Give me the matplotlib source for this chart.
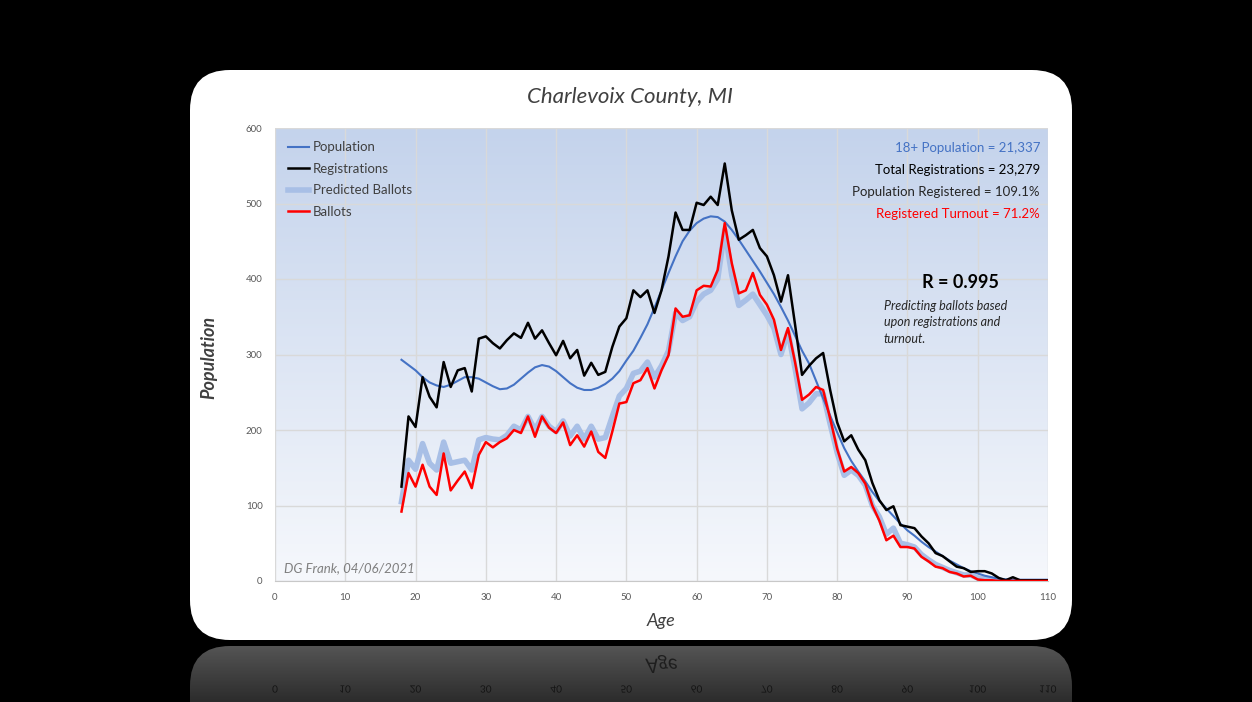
import numpy as np
import matplotlib.pyplot as plt
from matplotlib.patches import FancyBboxPatch, PathPatch
from matplotlib.path import Path
from matplotlib.textpath import TextPath
from matplotlib.font_manager import FontProperties
from matplotlib.colors import LinearSegmentedColormap
from matplotlib.ticker import MultipleLocator

plt.rcParams['font.family'] = ['Lato', 'DejaVu Sans']

ages = list(range(18, 111))

population = [293, 286, 279, 270, 263, 259, 257, 260, 265, 270,
              270, 268, 263, 258, 254, 255, 260, 268, 276, 283,
              286, 284, 278, 270, 262, 256, 253, 253, 256, 261,
              268, 278, 292, 305, 322, 340, 362, 385, 408, 430,
              450, 464, 474, 480, 483, 482, 476, 465, 452, 438,
              424, 410, 395, 380, 363, 345, 325, 305, 288, 265,
              242, 219, 197, 176, 159, 145, 132, 118, 106, 96,
              86, 76, 67, 60, 52, 45, 39, 33, 27, 22,
              17, 13, 10, 7, 5, 3, 2, 1, 1, 0,
              0, 0, 0]

registrations = [125, 218, 204, 270, 244, 230, 290, 257, 279, 282,
                 251, 321, 324, 315, 308, 319, 328, 322, 342, 321,
                 332, 315, 299, 318, 295, 306, 272, 289, 273, 277,
                 310, 337, 348, 385, 376, 385, 355, 385, 430, 488,
                 465, 465, 501, 498, 509, 498, 553, 491, 452, 458,
                 465, 441, 430, 405, 370, 405, 340, 273, 285, 295,
                 302, 253, 210, 185, 193, 174, 160, 130, 107, 94,
                 99, 74, 72, 70, 59, 50, 37, 33, 26, 19,
                 17, 12, 13, 13, 10, 4, 1, 5, 1, 1,
                 1, 1, 1]

predicted = [105, 160, 148, 182, 156, 147, 184, 156, 158, 160,
             147, 187, 190, 188, 187, 193, 205, 200, 218, 200,
             218, 205, 198, 212, 192, 205, 188, 205, 188, 190,
             218, 245, 255, 275, 278, 290, 270, 285, 305, 355,
             345, 350, 370, 380, 385, 400, 465, 405, 365, 372,
             380, 366, 352, 335, 300, 330, 282, 228, 236, 248,
             248, 208, 170, 140, 147, 140, 127, 100, 85, 62,
             70, 50, 48, 45, 35, 28, 22, 18, 14, 11,
             8, 8, 4, 3, 2, 1, 0, 1, 0, 0,
             0, 0, 0]

ballots = [92, 143, 125, 154, 125, 114, 169, 120, 133, 145,
           123, 167, 184, 177, 184, 189, 200, 196, 218, 191,
           218, 203, 196, 210, 180, 193, 178, 198, 171, 163,
           198, 235, 237, 262, 266, 282, 255, 279, 299, 361,
           350, 352, 385, 391, 390, 412, 474, 421, 381, 385,
           408, 379, 366, 346, 306, 335, 290, 240, 247, 257,
           253, 215, 175, 145, 151, 143, 129, 100, 80, 54,
           60, 45, 45, 43, 32, 26, 19, 17, 12, 10,
           6, 7, 2, 1, 1, 0, 0, 0, 0, 0,
           0, 0, 0]

W, H = 1252, 702


def fx(x):
    return x / W


def fy(y):
    return 1 - y / H


fig = plt.figure(figsize=(W / 100, H / 100), dpi=100)
fig.patch.set_facecolor('black')

# background: white rounded card + its reflection
bg = fig.add_axes([0, 0, 1, 1], zorder=-10)
bg.set_xlim(0, W)
bg.set_ylim(H, 0)
bg.axis('off')
card = FancyBboxPatch((190, 70), 882, 570, boxstyle="round,pad=0,rounding_size=40",
                      fc='white', ec='none')
bg.add_patch(card)

refl = FancyBboxPatch((190, 646), 882, 570, boxstyle="round,pad=0,rounding_size=40",
                      fc='none', ec='none')
bg.add_patch(refl)
grad = np.linspace(0, 1, 60).reshape(-1, 1)
refl_cmap = LinearSegmentedColormap.from_list('refl', ['#545454', '#2c2c2c'])
im = bg.imshow(grad, extent=[190, 1072, 702, 646], cmap=refl_cmap, aspect='auto',
               origin='upper', zorder=1)
im.set_clip_path(refl)


def mirrored_text(s, cx, cy, size, color, style='normal'):
    # y axis of bg is inverted, so a plain text path comes out upside down
    tp = TextPath((0, 0), s, size=size, prop=FontProperties(family='Lato', style=style))
    ext = tp.get_extents()
    verts = tp.vertices.copy()
    verts[:, 0] += cx - (ext.x0 + ext.x1) / 2
    verts[:, 1] += cy - (ext.y0 + ext.y1) / 2
    bg.add_patch(PathPatch(Path(verts, tp.codes), fc=color, ec='none', zorder=2))


mirrored_text('Age', 661, 664, 20, '#1e1e1e', style='italic')
for t in range(0, 111, 10):
    mirrored_text(str(t), 275 + t * 7.027, 689, 10, '#141414')

# main chart
ax = fig.add_axes([fx(275), fy(581), (1048 - 275) / W, (581 - 128) / H])
cmap = LinearSegmentedColormap.from_list('bgg', ['#f6f8fc', '#c4d3ec'])
ax.imshow(np.linspace(0, 1, 256).reshape(-1, 1), extent=[0, 110, 0, 600], origin='lower',
          cmap=cmap, aspect='auto', zorder=0)
ax.set_xlim(0, 110)
ax.set_ylim(0, 600)
ax.xaxis.set_major_locator(MultipleLocator(10))
ax.yaxis.set_major_locator(MultipleLocator(100))
ax.set_axisbelow(True)
ax.grid(color='#d9d9d9', lw=1)
for side in ['top', 'right', 'left']:
    ax.spines[side].set_visible(False)
ax.spines['bottom'].set_color('#c8c8c8')
ax.tick_params(length=0, labelsize=7, labelcolor='#595959')
ax.tick_params(axis='x', pad=9)
ax.tick_params(axis='y', pad=9)

ax.plot(ages, population, color='#4472c4', lw=1.5, label='Population', zorder=3)
ax.plot(ages, registrations, color='black', lw=1.8, label='Registrations', zorder=4)
ax.plot(ages, predicted, color='#a8bfe6', lw=4, label='Predicted Ballots', zorder=2)
ax.plot(ages, ballots, color='#ff0000', lw=1.8, label='Ballots', zorder=5)

leg = ax.legend(loc='upper left', bbox_to_anchor=(0.0, 1.0), frameon=False, fontsize=9.5,
                handlelength=1.6, handletextpad=0.25, labelspacing=0.72, borderaxespad=0.6)
for t in leg.get_texts():
    t.set_color('#404040')

# titles and labels
fig.text(fx(630), fy(97), 'Charlevoix County, MI', ha='center', va='center', fontsize=16,
         style='italic', color='#404040')
fig.text(fx(209), fy(357), 'Population', ha='center', va='center', rotation=90, fontsize=13,
         style='italic', fontweight='bold', color='#404040')
fig.text(fx(661), fy(621), 'Age', ha='center', va='center', fontsize=13,
         style='italic', color='#404040')

# summary texts
fig.text(fx(1040), fy(148), '18+ Population = 21,337', ha='right', va='center',
         fontsize=9.5, color='#4472c4')
fig.text(fx(1040), fy(170), 'Total Registrations = 23,279', ha='right', va='center',
         fontsize=9.5, color='black')
fig.text(fx(1040), fy(192), 'Population Registered = 109.1%', ha='right', va='center',
         fontsize=9.5, color='#262626')
fig.text(fx(1040), fy(214), 'Registered Turnout = 71.2%', ha='right', va='center',
         fontsize=9.5, color='#ff0000')
fig.text(fx(960), fy(282), 'R = 0.995', ha='center', va='center', fontsize=13,
         fontweight='bold', color='black')
fig.text(fx(884), fy(300), 'Predicting ballots based\nupon registrations and\nturnout.',
         ha='left', va='top', fontsize=9, style='italic', color='#262626', linespacing=1.45)
fig.text(fx(284), fy(568), 'DG Frank, 04/06/2021', ha='left', va='center', fontsize=9.5,
         style='italic', color='#7f7f7f')

fig.savefig('out.png', dpi=100, facecolor=fig.get_facecolor())
